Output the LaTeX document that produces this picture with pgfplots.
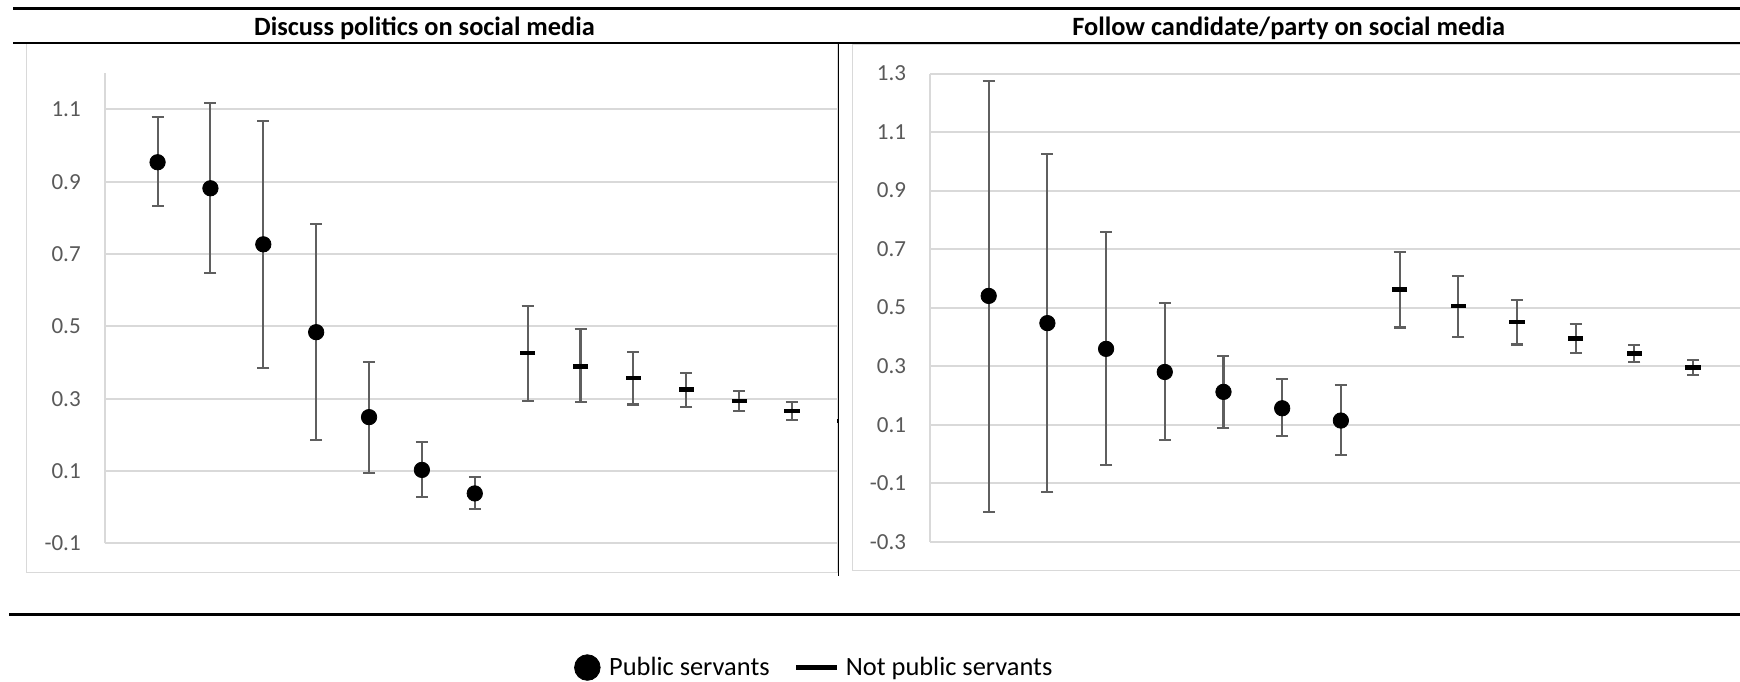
\documentclass[border=0pt]{standalone}
\usepackage{fontspec}
\setmainfont{Carlito}
\usepackage{pgfplots}
\usepackage{pgfplotstable}
\pgfplotsset{compat=1.18}

\definecolor{gridgray}{HTML}{D9D9D9}
\definecolor{labelgray}{HTML}{595959}
\definecolor{errgray}{HTML}{5F5F5F}

% Discuss politics on social media: estimate, lower and upper bound
\pgfplotstableread{
x  y      lo      hi
1  0.954  0.834   1.078
2  0.882  0.647   1.119
3  0.727  0.386   1.068
4  0.484  0.186   0.783
5  0.249  0.095   0.401
6  0.103  0.029   0.180
7  0.038  -0.006  0.084
}\discussPS
\pgfplotstableread{
x   y      lo     hi
8   0.426  0.294  0.557
9   0.390  0.290  0.492
10  0.357  0.284  0.429
11  0.325  0.278  0.371
12  0.294  0.267  0.322
13  0.266  0.240  0.291
14  0.238  0.215  0.262
}\discussNPS

% Follow candidate/party on social media
\pgfplotstableread{
x  y      lo      hi
1  0.540  -0.197  1.275
2  0.447  -0.131  1.025
3  0.359  -0.039  0.758
4  0.280  0.047   0.515
5  0.212  0.090   0.336
6  0.156  0.060   0.256
7  0.114  -0.005  0.236
}\followPS
\pgfplotstableread{
x   y      lo     hi
8   0.562  0.432  0.691
9   0.506  0.401  0.609
10  0.451  0.374  0.526
11  0.395  0.344  0.445
12  0.344  0.313  0.373
13  0.296  0.269  0.320
}\followNPS

\pgfplotsset{
  panel/.style={
    scale only axis,
    xmin=0, xmax=15,
    axis x line*=bottom, axis y line*=left,
    axis line style={gridgray, line width=1pt, -},
    xtick=\empty,
    major tick length=0pt,
    ymajorgrids,
    grid style={gridgray, line width=1pt},
    yticklabel style={font=\fontsize{11.5}{13}\selectfont, text=labelgray,
      anchor=east, inner sep=0pt, xshift=-11.8pt},
  },
  ps/.style={only marks, mark=*, mark size=3.85pt, black, forget plot},
  nps/.style={only marks, mark=-, mark size=3.8pt, black,
    mark options={line width=2.35pt}, forget plot},
  errs/.style={
    error bars/y dir=both,
    error bars/y explicit,
    error bars/error bar style={errgray, line width=1.05pt},
    error bars/error mark options={rotate=90, errgray, mark size=3pt, line width=1.05pt},
  },
}

\begin{document}
\begin{tikzpicture}
\path[use as bounding box] (0pt,0pt) rectangle (870pt,-340.5pt);
\clip (0pt,0pt) rectangle (870pt,-340.5pt);

% left chart area border
\draw[gridgray, line width=0.75pt] (13.35pt,-21.5pt) rectangle (419pt,-286.25pt);

\begin{axis}[panel,
  at={(52.35pt,-271.65pt)}, anchor=south west,
  width=396.5pt, height=235pt,
  ymin=-0.1, ymax=1.2,
  ytick={-0.1,0.1,0.3,0.5,0.7,0.9,1.1},
  yticklabels={-0.1,0.1,0.3,0.5,0.7,0.9,1.1},
  legend columns=2,
  legend style={at={(axis description cs:0.592,-0.2643)}, anchor=west,
    draw=none, fill=none, inner sep=0pt,
    font=\fontsize{13.2}{15}\selectfont,
    column sep=4.5pt,
    /tikz/every even column/.append style={column sep=13.2pt},
    nodes={inner sep=0pt}},
]
\addplot[ps, errs] table[x=x, y=y,
  y error plus expr=\thisrow{hi}-\thisrow{y},
  y error minus expr=\thisrow{y}-\thisrow{lo}] {\discussPS};
\addplot[nps, errs] table[x=x, y=y,
  y error plus expr=\thisrow{hi}-\thisrow{y},
  y error minus expr=\thisrow{y}-\thisrow{lo}] {\discussNPS};
\addlegendimage{only marks, mark=*, mark size=6.4pt, black}
\addlegendentry{Public servants}
\addlegendimage{only marks, mark=-, mark size=10.2pt, black,
  mark options={line width=2.2pt}}
\addlegendentry{Not public servants}
\end{axis}

% the right chart sits over the end of the left one
\fill[white] (419.5pt,-21.6pt) rectangle (875pt,-288.5pt);
\draw[gridgray, line width=0.75pt] (426.35pt,-22pt) rectangle (880pt,-285.25pt);

\begin{axis}[panel,
  at={(465pt,-270.85pt)}, anchor=south west,
  width=440.2pt, height=234.1pt,
  ymin=-0.3, ymax=1.3,
  ytick={-0.3,-0.1,0.1,0.3,0.5,0.7,0.9,1.1,1.3},
  yticklabels={-0.3,-0.1,0.1,0.3,0.5,0.7,0.9,1.1,1.3},
]
\addplot[ps, errs] table[x=x, y=y,
  y error plus expr=\thisrow{hi}-\thisrow{y},
  y error minus expr=\thisrow{y}-\thisrow{lo}] {\followPS};
\addplot[nps, errs] table[x=x, y=y,
  y error plus expr=\thisrow{hi}-\thisrow{y},
  y error minus expr=\thisrow{y}-\thisrow{lo}] {\followNPS};
\end{axis}

% separators and rules
\draw[black, line width=0.65pt] (419.15pt,-21.35pt) -- (419.15pt,-287.75pt);
\draw[black, line width=1.3pt] (6.65pt,-4.15pt) -- (870pt,-4.15pt);
\draw[black, line width=1pt] (6.65pt,-21.35pt) -- (870pt,-21.35pt);
\draw[black, line width=1.35pt] (4.5pt,-307.15pt) -- (870pt,-307.15pt);

% panel titles
\node[anchor=base, inner sep=0pt, font=\bfseries\fontsize{13.2}{15}\selectfont]
  at (212.25pt,-17.5pt) {Discuss politics on social media};
\node[anchor=base, inner sep=0pt, font=\bfseries\fontsize{13.2}{15}\selectfont]
  at (644.3pt,-17.5pt) {Follow candidate/party on social media};
\end{tikzpicture}
\end{document}
